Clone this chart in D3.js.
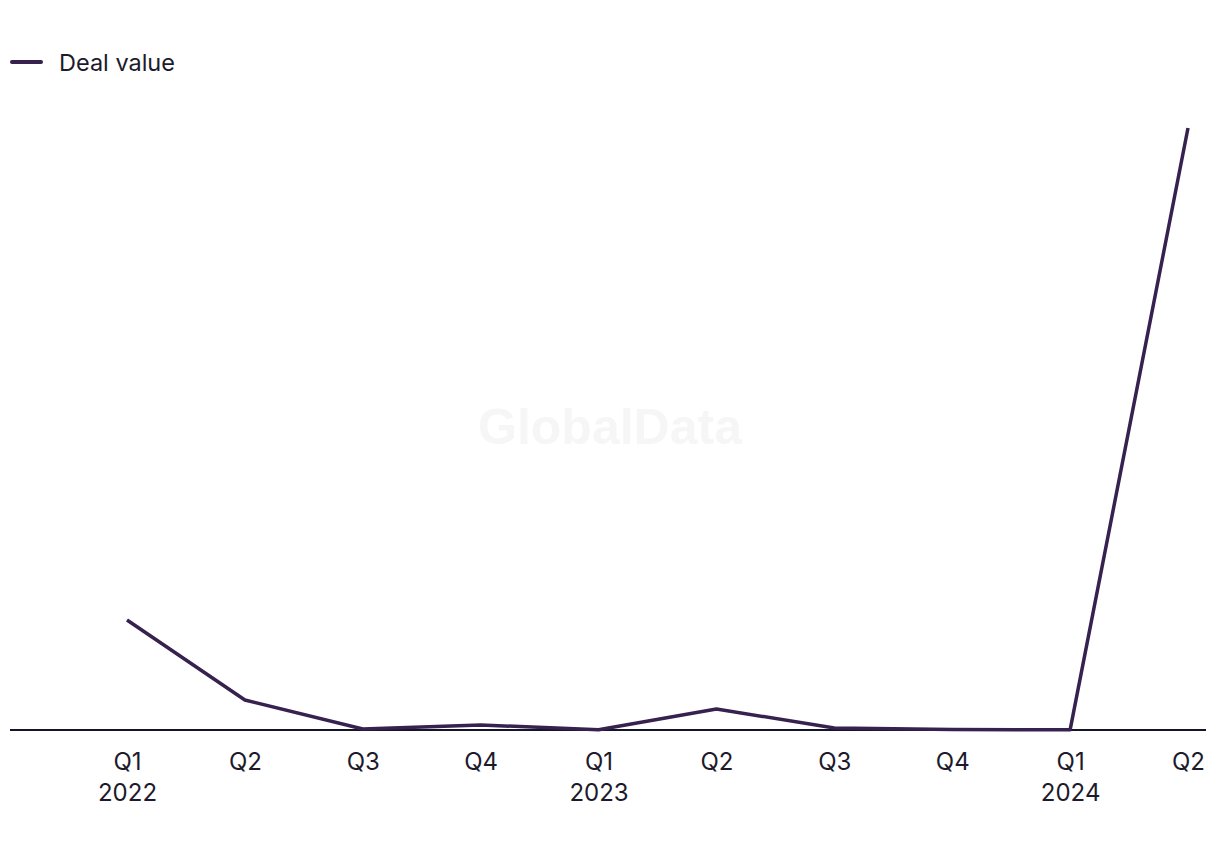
<!DOCTYPE html>
<html>
<head>
<meta charset="utf-8">
<script src="https://cdn.jsdelivr.net/npm/d3@7"></script>
<style>
  body { margin: 0; background: #fff; }
  svg { display: block; }
  text { font-family: Inter, "Noto Sans", sans-serif; }
</style>
</head>
<body>
<svg id="chart" width="1220" height="850"></svg>
<script>
const periods = ["2022Q1","2022Q2","2022Q3","2022Q4","2023Q1","2023Q2","2023Q3","2023Q4","2024Q1","2024Q2"];
const quarterLabels = ["Q1","Q2","Q3","Q4","Q1","Q2","Q3","Q4","Q1","Q2"];
const yearLabels = ["2022","","","","2023","","","","2024",""];
const dealValue = [550, 150, 5, 25, 1, 105, 10, 2, 1, 3010];
const seriesName = "Deal value";

const svg = d3.select("#chart");
const lineColor = "#36214f";
const textColor = "#1c1a2b";

const x = d3.scalePoint().domain(periods).range([127, 1188]);
const y = d3.scaleLinear().domain([0, d3.max(dealValue)]).range([730, 128]);

// watermark
svg.append("text")
  .attr("x", 610).attr("y", 444)
  .attr("text-anchor", "middle")
  .style("font-family", "'Liberation Sans', Arial, sans-serif")
  .style("font-weight", "bold")
  .style("font-size", "50px")
  .attr("fill", "#f6f6f6")
  .text("GlobalData");

// axis baseline
svg.append("line")
  .attr("x1", 10).attr("x2", 1206)
  .attr("y1", y(0)).attr("y2", y(0))
  .attr("stroke", "#16142a").attr("stroke-width", 2);

// axis labels
const axis = d3.axisBottom(x).tickSize(0).tickFormat(() => "");
const g = svg.append("g").attr("transform", `translate(0,${y(0)})`).call(axis);
g.select(".domain").remove();
g.selectAll(".tick").each(function(d, i) {
  const t = d3.select(this).append("text")
    .attr("text-anchor", "middle")
    .attr("fill", textColor)
    .style("font-size", "24px");
  t.append("tspan").attr("x", 0).attr("y", 40).text(quarterLabels[i]);
  if (yearLabels[i]) t.append("tspan").attr("x", 0).attr("y", 71).text(yearLabels[i]);
});

// line
const line = d3.line().x((d, i) => x(periods[i])).y(d => y(d));
svg.append("path")
  .datum(dealValue)
  .attr("d", line)
  .attr("fill", "none")
  .attr("stroke", lineColor)
  .attr("stroke-width", 3.5)
  .attr("stroke-linejoin", "round");

// legend
svg.append("line")
  .attr("x1", 12).attr("x2", 41).attr("y1", 62).attr("y2", 62)
  .attr("stroke", lineColor).attr("stroke-width", 4).attr("stroke-linecap", "round");
svg.append("text")
  .attr("x", 59).attr("y", 71)
  .attr("fill", textColor)
  .style("font-size", "23.5px")
  .text(seriesName);
</script>
</body>
</html>
